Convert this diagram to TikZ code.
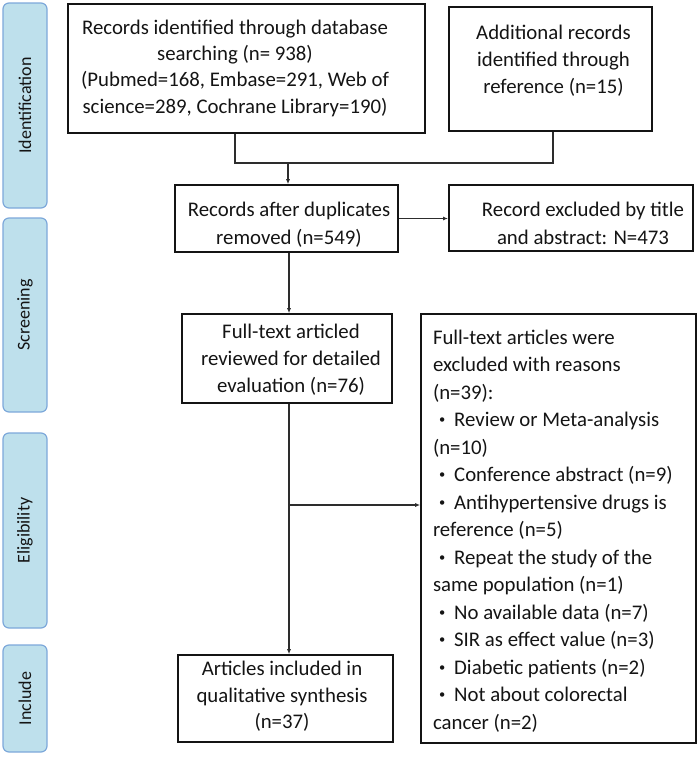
\documentclass[tikz,border=0pt]{standalone}
\usepackage{fontspec}
\usepackage{graphicx}
\setmainfont{Carlito}
\usetikzlibrary{arrows.meta}
\definecolor{phasefill}{RGB}{190,224,236}
\definecolor{phaseline}{RGB}{125,168,218}
\definecolor{ink}{RGB}{20,20,20}
\definecolor{wire}{RGB}{45,45,45}
% #1 x shift, #2 raise, #3 baselineskip, #4 column spec, #5 rows
\newcommand\btxt[5]{\hspace*{#1pt}\raisebox{#2pt}[\height][\depth]{\fontsize{20.8}{#3}\selectfont\begin{tabular}{@{}#4@{}}#5\end{tabular}}\hspace*{-#1pt}}
\newcommand\bul{\hspace*{0.3em}\raisebox{0.14em}{\scalebox{0.6}{•}}\hspace*{0.42em}}
\tikzset{
  box/.style={draw=ink, line width=1.6pt, text=ink, inner sep=0pt, rectangle},
  phase/.style={draw=phaseline, fill=phasefill, line width=1.2pt, rounded corners=6pt,
    text=ink, inner sep=0pt, font=\fontsize{18}{20}\selectfont},
  wireline/.style={draw=wire, line width=1.1pt},
  arrowline/.style={wireline, -{Latex[length=5pt,width=4pt]}}
}
\begin{document}
\begin{tikzpicture}[x=1pt,y=-1pt]
\useasboundingbox (0,0) rectangle (699,764);
% phase bars
\node[phase, rotate=90, minimum width=205pt, minimum height=44pt] (p1) at (25,105.5) {Identification};
\node[phase, rotate=90, minimum width=194pt, minimum height=44pt] (p2) at (25,315) {Screening};
\node[phase, rotate=90, minimum width=195pt, minimum height=44pt] (p3) at (25,530.5) {Eligibility};
\node[phase, rotate=90, minimum width=107pt, minimum height=44pt] (p4) at (25,698.5) {Include};
% boxes
\node[box, minimum width=357pt, minimum height=129pt] (b1) at (246.5,68.5)
  {\btxt{-11.5}{0}{26.3}{c}{Records identified through database\\searching (n= 938)\\(Pubmed=168, Embase=291, Web of\\science=289, Cochrane Library=190)}};
\node[box, minimum width=203pt, minimum height=124pt] (b2) at (550.5,69)
  {\btxt{3}{7.5}{27}{c}{Additional records\\identified through\\reference (n=15)}};
\node[box, minimum width=223pt, minimum height=67pt] (b3) at (286.5,218.5)
  {\btxt{2.5}{-6.5}{28}{c}{Records after duplicates\\removed (n=549)}};
\node[box, minimum width=244.4pt, minimum height=66pt] (b4) at (571,218)
  {\btxt{12}{-7}{28}{c}{Record excluded by title\\and abstract: N=473}};
\node[box, minimum width=210pt, minimum height=89pt] (b5) at (287,358.5)
  {\btxt{4}{-1.5}{27}{c}{Full-text articled\\reviewed for detailed\\evaluation (n=76)}};
\node[box, minimum width=275pt, minimum height=429pt] (b6) at (558.5,528.5)
  {\btxt{0}{-2.5}{27.5}{p{251pt}}{Full-text articles were\\excluded with reasons\\(n=39):\\\bul Review or Meta-analysis\\(n=10)\\\bul Conference abstract (n=9)\\\bul Antihypertensive drugs is\\reference (n=5)\\\bul Repeat the study of the\\same population (n=1)\\\bul No available data (n=7)\\\bul SIR as effect value (n=3)\\\bul Diabetic patients (n=2)\\\bul Not about colorectal\\cancer (n=2)}};
\node[box, minimum width=215pt, minimum height=87pt] (b7) at (285.5,698.5)
  {\btxt{-3.5}{1.5}{26.5}{c}{Articles included in\\qualitative synthesis\\(n=37)}};
% connectors
\coordinate (jl) at (235,163);
\coordinate (jr) at (553,163);
\coordinate (jm) at (288,163);
\coordinate (col) at (289,505);
\draw[wireline] (b1.south -| jl) -- (jl) -- (jr) -- (b2.south -| jr);
\draw[arrowline] (jm) -- (b3.north -| jm);
\draw[arrowline] (b3.east) -- (b4.west |- b3.east);
\draw[arrowline] (b3.south -| col) -- (b5.north -| col);
\draw[arrowline] (b5.south -| col) -- (b7.north -| col);
\draw[arrowline] (col) -- (b6.west |- col);
\end{tikzpicture}
\end{document}
